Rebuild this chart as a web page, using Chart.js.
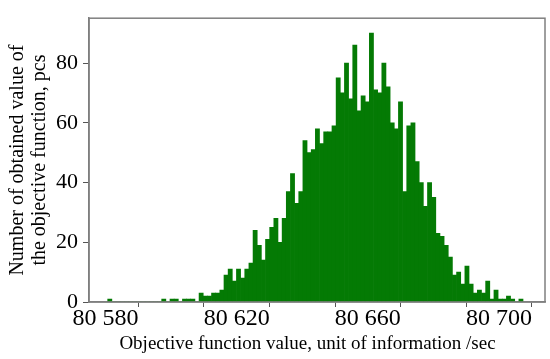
<!DOCTYPE html>
<html lang="en">
<head>
    <meta charset="UTF-8">
    <title>Objective function histogram</title>
    <script src="https://cdn.jsdelivr.net/npm/chart.js"></script>
    <style>
        body { margin: 0; background: #fff; }
        #wrap { width: 550px; height: 359px; }
    </style>
</head>
<body>
    <div id="wrap"><canvas id="histChart" width="550" height="359"></canvas></div>

    <script>
        // histogram bins (100 equal bins)
        const binStart = 80580.7;
        const binWidth = 1.266;
        const counts = [
            1, 0, 0, 0, 0, 0, 0, 0, 0, 0,
            0, 0, 0, 1, 0, 1, 1, 0, 1, 1,
            1, 0, 3, 2, 2, 3, 3, 4, 9, 11,
            7, 11, 8, 11, 13, 24, 19, 14, 21, 25,
            28, 20, 28, 37, 43, 33, 37, 54, 50, 51,
            58, 53, 57, 57, 59, 75, 70, 80, 68, 86,
            64, 69, 67, 90, 71, 70, 80, 72, 60, 58,
            67, 37, 59, 60, 47, 40, 32, 40, 35, 23,
            22, 19, 15, 9, 10, 6, 12, 6, 3, 4,
            3, 7, 1, 4, 1, 1, 2, 1, 0, 1
        ];
        const xLabelTicks = [80580, 80620, 80660, 80700];
        const yTitle = ['Number of obtained value of', 'the objective function, pcs'];
        // trailing no-break spaces pull the centred title a little to the left, as in the original
        const xTitle = 'Objective function value, unit of information /sec\u00a0\u00a0\u00a0\u00a0';

        const points = counts.map((c, i) => ({ x: binStart + (i + 0.5) * binWidth, y: c }));

        const serif = 'Liberation Serif, Times New Roman, serif';

        // frame round the plot area
        const frame = {
            id: 'frame',
            afterDatasetsDraw(chart) {
                const a = chart.chartArea;
                const c = chart.ctx;
                c.save();
                c.strokeStyle = '#7f7f7f';
                c.lineWidth = 1.5;
                c.strokeRect(a.left, a.top, a.right - a.left, a.bottom - a.top);
                c.restore();
            }
        };

        new Chart(document.getElementById('histChart'), {
            type: 'bar',
            data: {
                datasets: [{
                    data: points,
                    backgroundColor: '#047a04',
                    borderWidth: 0,
                    barPercentage: 1,
                    categoryPercentage: 1
                }]
            },
            options: {
                responsive: false,
                animation: false,
                layout: { padding: { top: 5, right: 5 } },
                plugins: { legend: { display: false }, tooltip: { enabled: false } },
                scales: {
                    x: {
                        type: 'linear',
                        offset: false,
                        min: 80575,
                        max: 80714,
                        afterFit: s => { s.height = 57; },
                        grid: { display: true, drawOnChartArea: false, tickLength: 5, color: '#555' },
                        border: { color: '#7f7f7f', width: 1.5 },
                        ticks: {
                            stepSize: 20,
                            includeBounds: false,
                            maxRotation: 0,
                            padding: -3,
                            color: '#000',
                            font: { family: serif, size: 24 },
                            callback: v => xLabelTicks.includes(v)
                                ? String(v).replace(/\B(?=(\d{3})+(?!\d))/g, ' ') : ''
                        },
                        title: {
                            display: true,
                            text: xTitle,
                            color: '#000',
                            font: { family: serif, size: 19 },
                            padding: { top: 0, bottom: 4 }
                        }
                    },
                    y: {
                        min: 0,
                        max: 95,
                        afterFit: s => { s.width = 89; },
                        grid: { display: true, drawOnChartArea: false, tickLength: 6, color: '#555' },
                        border: { color: '#7f7f7f', width: 1.5 },
                        ticks: {
                            stepSize: 20,
                            includeBounds: false,
                            padding: 5,
                            color: '#000',
                            font: { family: serif, size: 22 }
                        },
                        title: {
                            display: true,
                            text: yTitle,
                            color: '#000',
                            font: { family: serif, size: 20, lineHeight: 1.1 },
                            padding: { top: 7, bottom: 0 }
                        }
                    }
                }
            },
            plugins: [frame]
        });
    </script>
</body>
</html>
